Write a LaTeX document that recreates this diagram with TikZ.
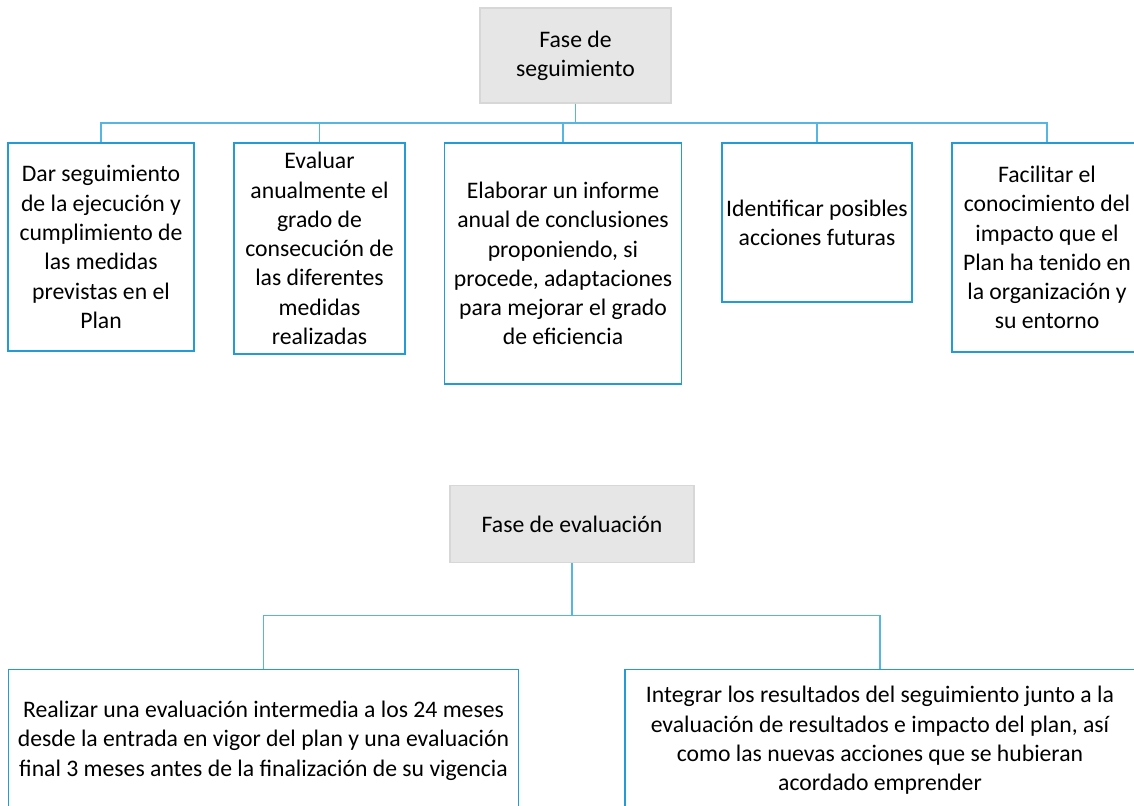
\documentclass[tikz,border=0pt]{standalone}
\usepackage{fontspec}
\setmainfont{Carlito}
\usepackage{xcolor}
\usepackage{tikz}
\usetikzlibrary{positioning}

\definecolor{boxblue}{RGB}{35,155,215}
\definecolor{linkblue}{RGB}{85,182,228}
\definecolor{hdrgray}{RGB}{230,230,230}
\definecolor{hdrline}{RGB}{215,215,215}

\begin{document}
\begin{tikzpicture}[
  x=0.5pt, y=-0.5pt,
  font=\fontsize{11.85}{14.65}\selectfont,
  hdr/.style={rectangle, draw=hdrline, fill=hdrgray, line width=0.6pt, inner sep=2pt, align=center},
  item/.style={rectangle, draw=boxblue, fill=white, line width=0.6pt, inner sep=2pt, align=center},
  link/.style={draw=linkblue, line width=0.6pt}
]
\useasboundingbox (0,0) rectangle (1134,805);
\clip (0,0) rectangle (1134,805);

% Fase de seguimiento
\node[hdr, minimum width=95.5pt, minimum height=47.5pt] (seg) at (575.5,55.5) {Fase de\\seguimiento};

\node[item, minimum width=93pt, minimum height=104pt] (s1) at (101,247) {Dar seguimiento\\de la ejecución y\\cumplimiento de\\las medidas\\previstas en el\\Plan};
\node[item, minimum width=85.5pt, minimum height=105.5pt, inner ysep=0pt] (s2) at (319.5,248.5) {Evaluar\\anualmente el\\grado de\\consecución de\\las diferentes\\medidas\\realizadas};
\node[item, minimum width=118.25pt, minimum height=120.5pt] (s3) at (563,263.5) {Elaborar un informe\\anual de conclusiones\\proponiendo, si\\procede, adaptaciones\\para mejorar el grado\\de eficiencia};
\node[item, minimum width=95pt, minimum height=79.5pt] (s4) at (817,222.5) {Identificar posibles\\acciones futuras};
\node[item, minimum width=95pt, minimum height=104.5pt] (s5) at (1047,247.5) {Facilitar el\\conocimiento del\\impacto que el\\Plan ha tenido en\\la organización y\\su entorno};

% bus
\coordinate (segbus) at (575.5,123);
\draw[link] (seg) -- (segbus);
\foreach \n in {s1,s2,s3,s4,s5}
  \draw[link] (segbus) -| (\n.north);

% Fase de evaluación
\node[hdr, minimum width=122pt, minimum height=38.75pt] (eval) at (572,524) {Fase de evaluación};

\node[item, minimum width=255pt, minimum height=71.5pt] (e1) at (263.5,740.6) {Realizar una evaluación intermedia a los 24 meses\\desde la entrada en vigor del plan y una evaluación\\final 3 meses antes de la finalización de su vigencia};
\node[item, minimum width=255pt, minimum height=71.5pt] (e2) at (880,740.6) {Integrar los resultados del seguimiento junto a la\\evaluación de resultados e impacto del plan, así\\como las nuevas acciones que se hubieran\\acordado emprender};

\coordinate (evalbus) at (572,615.7);
\draw[link] (eval) -- (evalbus);
\draw[link] (evalbus) -| (e1.north);
\draw[link] (evalbus) -| (e2.north);

\end{tikzpicture}
\end{document}
